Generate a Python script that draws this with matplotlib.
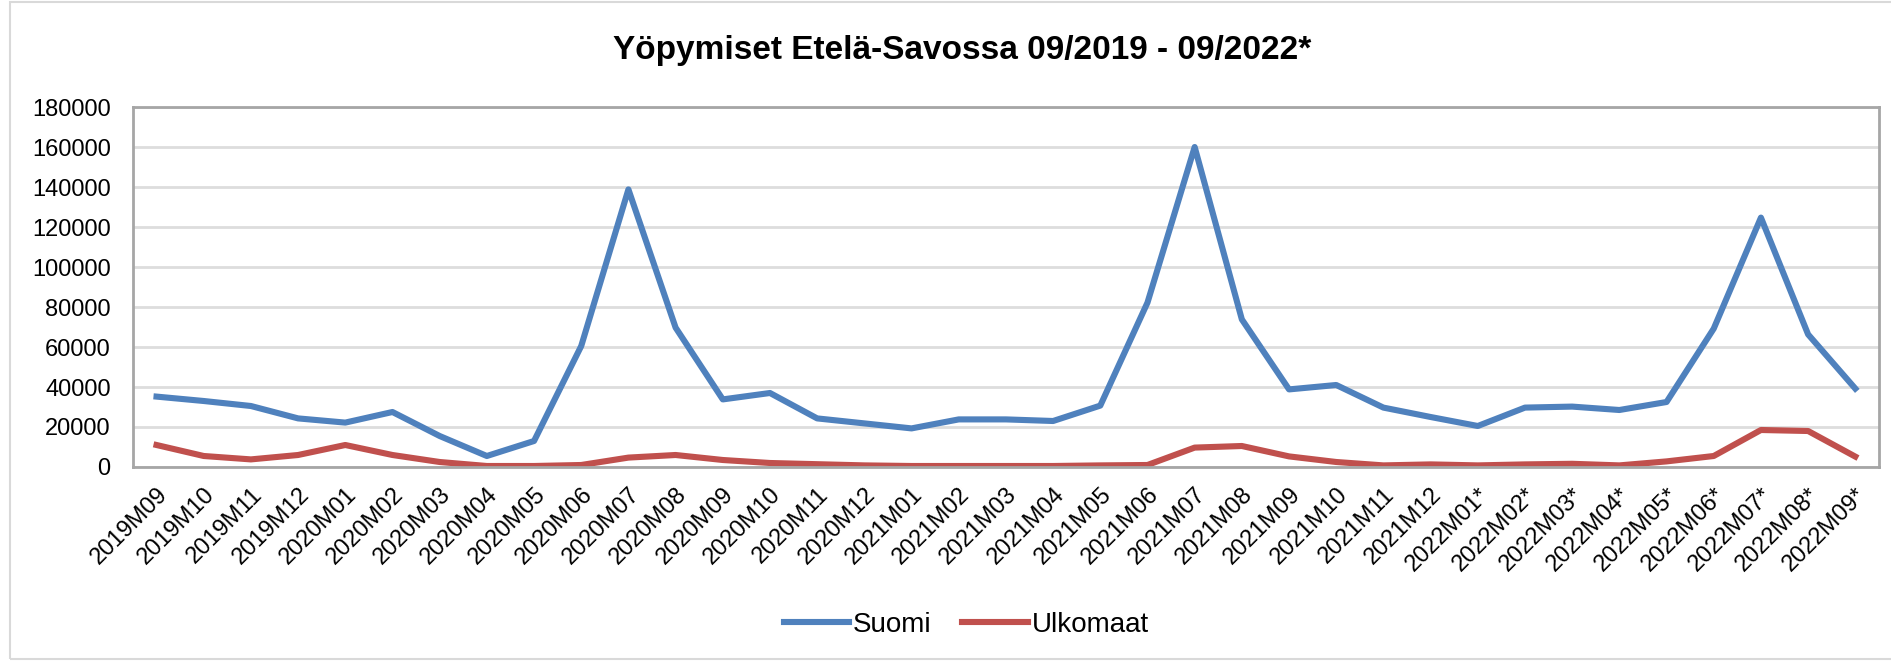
import matplotlib.pyplot as plt
from matplotlib.patches import Rectangle

plt.rcParams['font.family'] = ['Liberation Sans', 'DejaVu Sans']

months = ['2019M09', '2019M10', '2019M11', '2019M12',
          '2020M01', '2020M02', '2020M03', '2020M04', '2020M05', '2020M06',
          '2020M07', '2020M08', '2020M09', '2020M10', '2020M11', '2020M12',
          '2021M01', '2021M02', '2021M03', '2021M04', '2021M05', '2021M06',
          '2021M07', '2021M08', '2021M09', '2021M10', '2021M11', '2021M12',
          '2022M01*', '2022M02*', '2022M03*', '2022M04*', '2022M05*',
          '2022M06*', '2022M07*', '2022M08*', '2022M09*']

suomi = [35200, 33000, 30500, 24300,
         22200, 27500, 15500, 5500, 13000, 60500,
         138800, 69700, 33800, 37000, 24300, 21800,
         19300, 23800, 23800, 23000, 30700, 82200,
         160000, 73800, 38800, 41000, 29700, 25000,
         20500, 29700, 30200, 28500, 32500,
         69200, 124700, 66300, 39200]

ulkomaat = [11000, 5500, 3800, 6000,
            11000, 6000, 2500, 500, 500, 1000,
            4700, 6000, 3500, 2000, 1400, 800,
            500, 500, 500, 500, 800, 1000,
            9700, 10500, 5300, 2500, 800, 1300,
            800, 1300, 1600, 800, 2800,
            5500, 18500, 18000, 5200]

fig = plt.figure(figsize=(18.91, 6.61), dpi=100)
ax = fig.add_axes([0.0703, 0.2935, 0.9233, 0.5446])

x = range(len(months))
ax.plot(x, suomi, color='#4f81bd', lw=4.4, label='Suomi', solid_joinstyle='round')
ax.plot(x, ulkomaat, color='#c0504d', lw=4.4, label='Ulkomaat', solid_joinstyle='round')

ax.set_xlim(-0.5, len(months) - 0.5)
ax.set_ylim(0, 180000)
ax.set_yticks(range(0, 180001, 20000))
ax.tick_params(axis='y', labelsize=17, length=0, pad=16)
ax.set_xticks(list(x))
ax.set_xticklabels(months, rotation=45, ha='right', rotation_mode='anchor', fontsize=17)
ax.tick_params(axis='x', length=0, pad=12)

ax.grid(axis='y', color='#dddddd', lw=2)
ax.set_axisbelow(True)
for s in ax.spines.values():
    s.set_color('#a6a6a6')
    s.set_linewidth(2)

fig.text(0.509, 0.923, 'Yöpymiset Etelä-Savossa 09/2019 - 09/2022*', ha='center',
         va='center', fontsize=24, fontweight='bold')

fig.legend(loc='center', bbox_to_anchor=(0.511, 0.0545), ncol=2, frameon=False,
           fontsize=20, handlelength=2.35, handletextpad=0.15, columnspacing=1.1)

# chart area border (right side is cut off in the original)
fig.patches.append(Rectangle((0.0053, 0.003), 1.1, 0.994, transform=fig.transFigure,
                             fill=False, edgecolor='#d9d9d9', lw=1.5))

fig.savefig('out.png', dpi=100)
